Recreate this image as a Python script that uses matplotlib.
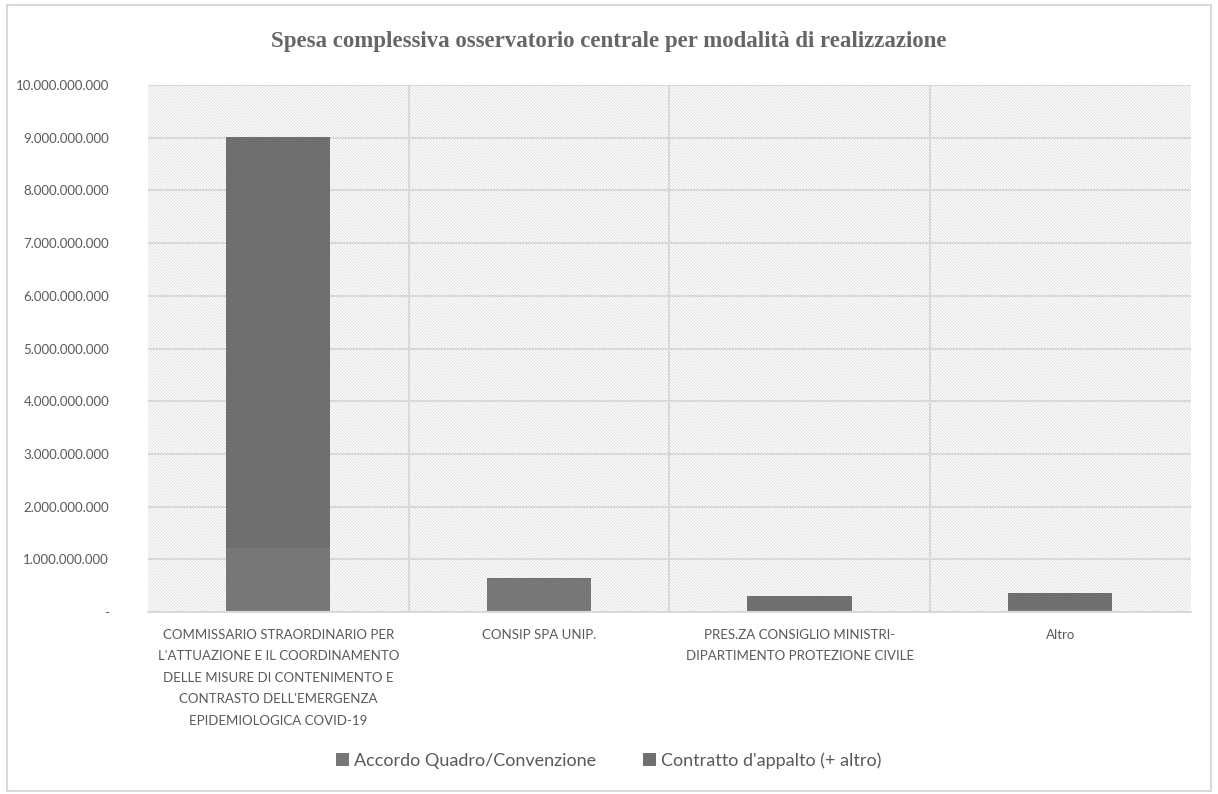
import matplotlib

matplotlib.use("Agg")
import matplotlib.pyplot as plt
from matplotlib.patches import Rectangle
from matplotlib.ticker import FuncFormatter, MultipleLocator

categories = [
    "COMMISSARIO STRAORDINARIO PER\nL'ATTUAZIONE E IL COORDINAMENTO\nDELLE MISURE DI CONTENIMENTO E\nCONTRASTO DELL'EMERGENZA\nEPIDEMIOLOGICA COVID-19",
    "CONSIP SPA UNIP.",
    "PRES.ZA CONSIGLIO MINISTRI-\nDIPARTIMENTO PROTEZIONE CIVILE",
    "Altro",
]
accordo = [1.22e9, 0.62e9, 0.01e9, 0.04e9]
contratto = [7.80e9, 0.03e9, 0.30e9, 0.33e9]
series_names = ["Accordo Quadro/Convenzione", "Contratto d'appalto (+ altro)"]

GRID = "#d9d9d9"
TXT = "#595959"
HATCH = "#d6d6d6"
plt.rcParams["hatch.linewidth"] = 0.5
plt.rcParams["hatch.color"] = HATCH

fig = plt.figure(figsize=(12.18, 7.94), dpi=100)
fig.patches.append(Rectangle((0.006, 0.004), 0.988, 0.99, transform=fig.transFigure,
                             fill=False, edgecolor=GRID, lw=1.5))
ax = fig.add_axes([0.1215, 0.229, 0.856, 0.664])

x = range(len(categories))
ax.set_xlim(-0.5, len(categories) - 0.5)
ax.set_ylim(0, 10e9)

# hatched plot-area background
ax.add_patch(Rectangle((0, 0), 1, 1, transform=ax.transAxes, facecolor="white",
                       hatch="\\" * 11, edgecolor=HATCH, lw=0, zorder=0))
for y in range(1, 11):
    ax.axhline(y * 1e9, color=GRID, lw=1.5, zorder=1)
for b in range(1, len(categories)):
    ax.axvline(b - 0.5, color=GRID, lw=1.5, zorder=1)

ax.bar(x, accordo, width=0.4, color="#777777", label=series_names[0], zorder=2)
ax.bar(x, contratto, width=0.4, bottom=accordo, color="#6f6f6f",
       label=series_names[1], zorder=2)

for s in ["top", "right", "left"]:
    ax.spines[s].set_visible(False)
ax.spines["bottom"].set_color(GRID)
ax.spines["bottom"].set_linewidth(1.5)

ax.yaxis.set_major_locator(MultipleLocator(1e9))
ax.yaxis.set_major_formatter(FuncFormatter(
    lambda v, p: "-" if v == 0 else f"{v:,.0f}".replace(",", ".")))
ax.set_xticks(list(x))
ax.set_xticklabels(categories, family="Lato", fontsize=9.5, color=TXT,
                   linespacing=1.95)
ax.tick_params(axis="y", labelsize=9.5, labelcolor=TXT, length=0, pad=28)
ax.tick_params(axis="x", length=0, pad=12)
for t in ax.get_yticklabels():
    t.set_family("Lato")

fig.text(0.5, 0.948, "Spesa complessiva osservatorio centrale per modalità di realizzazione",
         ha="center", va="center", family="Liberation Serif", fontweight="bold",
         fontsize=16.5, color="#666666")

fig.legend(loc="center", bbox_to_anchor=(0.5, 0.042), ncol=2, frameon=False,
           prop={"family": "Lato", "size": 13}, labelcolor=TXT,
           handlelength=0.7, handleheight=0.7, handletextpad=0.3, columnspacing=2.6)

fig.savefig("out.png", dpi=100)
